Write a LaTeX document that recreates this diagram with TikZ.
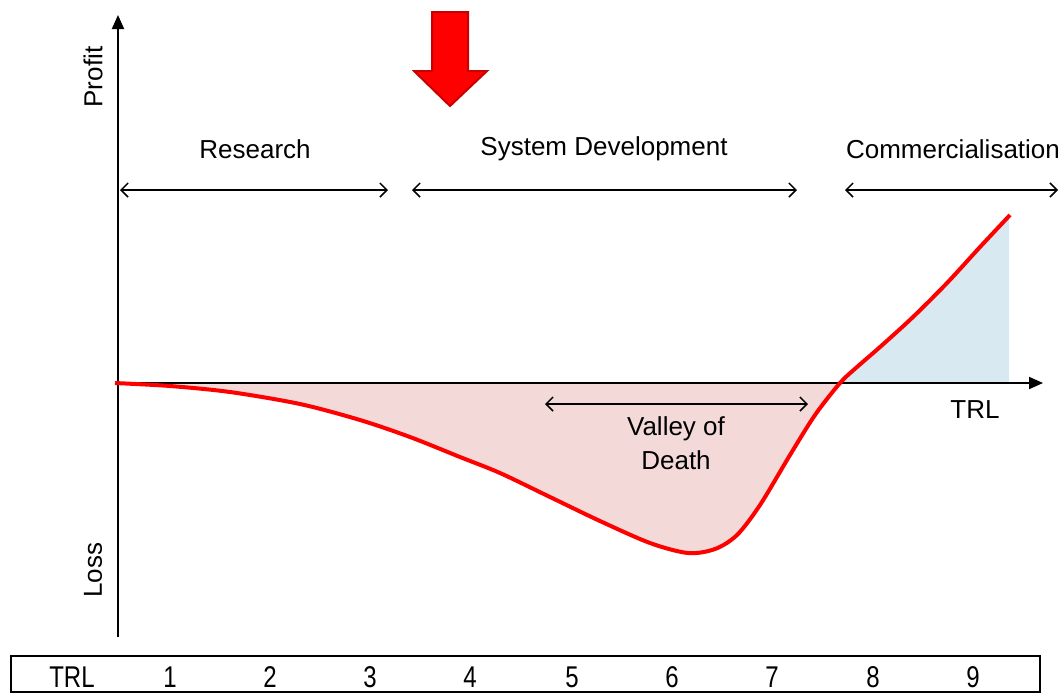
\documentclass[tikz,border=0pt]{standalone}
\usepackage{fontspec}
\setmainfont{Liberation Sans}
\usetikzlibrary{arrows.meta}
\definecolor{pinkfill}{RGB}{243,218,217}
\definecolor{bluefill}{RGB}{216,233,241}
\definecolor{darkred}{RGB}{200,0,0}
\begin{document}
\begin{tikzpicture}[x=0.5pt,y=-0.5pt,
  lbl/.style={font=\fontsize{13}{15}\selectfont, inner sep=0pt},
  tbl/.style={font=\fontsize{15}{17}\selectfont, inner sep=0pt, xscale=0.8},
  span/.style={line width=0.75pt, {Straight Barb[length=3.5pt,width=7pt]}-{Straight Barb[length=3.5pt,width=7pt]}},
  axis/.style={line width=1pt, -{Triangle[length=7pt,width=6pt]}},
  curvestyle/.style={red, line width=2pt}]
\useasboundingbox (0,0) rectangle (1060,693);
\def\curve{plot[smooth,tension=0.5] coordinates{(115,383) (170,386) (230,392) (300,404) (360,420) (410,437) (460,457) (500,473) (550,497) (600,521) (650,543) (688,553) (715,549) (737,535) (760,505) (790,455) (815,415) (840,383) (857,367) (880,347) (913,317) (947,283) (980,247) (1010,215)}}
% fills
\begin{scope}
  \clip (118,383) rectangle (1060,700);
  \fill[pinkfill] \curve -- (1009,383) -- cycle;
\end{scope}
\begin{scope}
  \clip (118,0) rectangle (1009,383);
  \fill[bluefill] \curve -- (1009,383) -- cycle;
\end{scope}
% axes
\coordinate (o) at (118,383);
\coordinate (ybot) at (118,637);
\coordinate (ytop) at (118,15);
\coordinate (xend) at (1043,383);
\draw[axis] (ybot) -- (ytop);
\draw[axis] (o) -- (xend);
% curve
\draw[curvestyle] \curve;
% axis labels
\node[lbl, rotate=90] (profit) at (93,77) {Profit};
\node[lbl, rotate=90] (loss) at (93,570) {Loss};
\node[lbl] (trlx) at (975,410) {TRL};
% phase labels and spans
\node[lbl] (research) at (255,149) {Research};
\node[lbl] (sysdev) at (604,149) {System Development};
\node[lbl] (comm) at (953,149) {Commercialisation};
\coordinate (r1) at (120,190); \coordinate (r2) at (388,190);
\coordinate (s1) at (412,190); \coordinate (s2) at (797,190);
\coordinate (c1) at (845,190); \coordinate (c2) at (1058,190);
\draw[span] (r1) -- (r2);
\draw[span] (s1) -- (s2);
\draw[span] (c1) -- (c2);
% valley of death
\coordinate (v1) at (545,404); \coordinate (v2) at (808,404);
\draw[span] (v1) -- (v2);
\node[lbl, align=center] (valley) at (676,443) {Valley of\\[2pt]Death};
% big red arrow
\draw[darkred, line width=1pt, fill=red] (432,12) -- (468,12) -- (468,71) -- (487,71) -- (450,106) -- (414,71) -- (432,71) -- cycle;
% table
\draw[line width=1pt] (11,656) rectangle (1040,692);
\node[tbl] (t0) at (72,677) {TRL};
\node[tbl] (t1) at (170,677) {1};
\node[tbl] (t2) at (270,677) {2};
\node[tbl] (t3) at (370,677) {3};
\node[tbl] (t4) at (470,677) {4};
\node[tbl] (t5) at (572,677) {5};
\node[tbl] (t6) at (672,677) {6};
\node[tbl] (t7) at (772,677) {7};
\node[tbl] (t8) at (873,677) {8};
\node[tbl] (t9) at (973,677) {9};
\end{tikzpicture}
\end{document}
